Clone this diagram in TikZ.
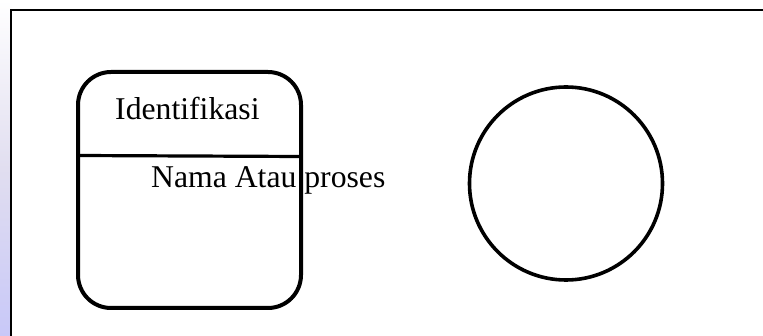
\documentclass[tikz,border=0pt]{standalone}
\usepackage{fontspec}
\setmainfont{Liberation Serif}
\definecolor{stripbot}{RGB}{200,200,248}
\definecolor{stripmid}{RGB}{225,222,240}
\begin{document}
\begin{tikzpicture}[x=1pt,y=-1pt,
  outl/.style={draw=black,line width=4pt},
  lbl/.style={inner sep=0pt,anchor=base west,font=\fontsize{31.7}{38}\selectfont}]
\useasboundingbox (0,0) rectangle (763,336);
\fill[white] (0,0) rectangle (763,336);
\shade[top color=white,bottom color=stripbot,middle color=stripmid] (0,0) rectangle (11,336);
\coordinate (tl) at (11,10);
\coordinate (tr) at (763,10);
\coordinate (bl) at (11,336);
\draw[line width=1.6pt] (tr) -- (tl) -- (bl);
\node[outl,rectangle,rounded corners=33pt,minimum width=223pt,minimum height=236pt,inner sep=0pt] (box) at (189.5,190) {};
\coordinate (dl) at (78,155.5);
\coordinate (dr) at (301,156.5);
\draw[line width=3.2pt] (dl) -- (dr);
\node[lbl] (ident) at (115,120) {Identifikasi};
\node[lbl] (nama) at (151,188) {Nama Atau proses};
\node[outl,line width=3.6pt,circle,minimum size=193pt,inner sep=0pt] (proc) at (566,183.5) {};
\end{tikzpicture}
\end{document}
